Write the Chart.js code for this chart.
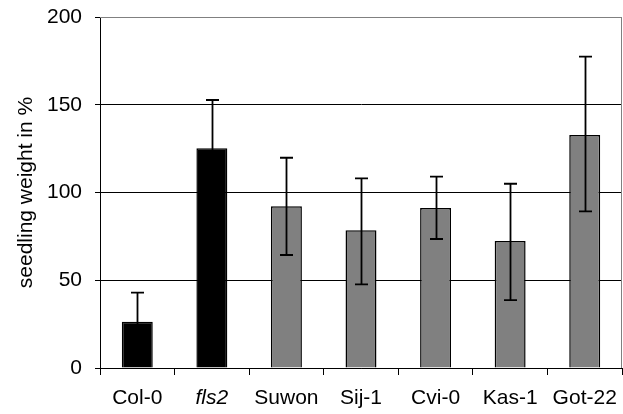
<!DOCTYPE html>
<html>
<head>
<meta charset="utf-8">
<script src="https://cdn.jsdelivr.net/npm/chart.js@4"></script>
<style>
  html, body { margin: 0; padding: 0; background: #fff; }
  #wrap { width: 623px; height: 414px; }
</style>
</head>
<body>
<div id="wrap"><canvas id="c" width="623" height="414"></canvas></div>
<script>
// Seedling weight relative to control, mean with error range
const categories = ['Col-0', 'fls2', 'Suwon', 'Sij-1', 'Cvi-0', 'Kas-1', 'Got-22'];
const weights    = [26.4, 125.2, 92.1, 78.5, 91.2, 72.4, 132.8];
const errUpper   = [42.9, 152.7, 119.8, 108.1, 109.0, 105.0, 177.4];
const errLower   = [9.9, 97.7, 64.4, 47.7, 73.5, 38.7, 89.3];
const barColors  = ['#000000', '#000000', '#808080', '#808080', '#808080', '#808080', '#808080'];
const yTicks     = [0, 50, 100, 150, 200];

const FONT = "'Liberation Sans', Arial, sans-serif";

// Error whiskers with caps, drawn over the bars
const errorBars = {
  id: 'errorBars',
  afterDatasetsDraw(chart) {
    const ctx = chart.ctx;
    const x = chart.scales.x, y = chart.scales.y;
    ctx.save();
    ctx.strokeStyle = '#000';
    ctx.lineWidth = 1.8;
    categories.forEach((c, i) => {
      const cx = Math.round(x.getPixelForValue(i)) + 0.5;
      const yt = y.getPixelForValue(errUpper[i]);
      const yb = y.getPixelForValue(errLower[i]);
      ctx.beginPath();
      ctx.moveTo(cx, yt); ctx.lineTo(cx, yb);
      ctx.moveTo(cx - 6.5, yt); ctx.lineTo(cx + 6.5, yt);
      ctx.moveTo(cx - 6.5, yb); ctx.lineTo(cx + 6.5, yb);
      ctx.stroke();
    });
    ctx.restore();
  }
};

// Grey frame on the top and right of the plot area
const frame = {
  id: 'frame',
  beforeDatasetsDraw(chart) {
    const {ctx, chartArea: a} = chart;
    ctx.save();
    ctx.strokeStyle = '#808080';
    ctx.lineWidth = 1;
    ctx.beginPath();
    ctx.moveTo(a.left, a.top + 0.5);
    ctx.lineTo(a.right - 0.5, a.top + 0.5);
    ctx.lineTo(a.right - 0.5, a.bottom);
    ctx.stroke();
    ctx.restore();
  }
};

new Chart(document.getElementById('c'), {
  type: 'bar',
  data: {
    labels: categories,
    datasets: [{
      data: weights,
      backgroundColor: barColors,
      borderColor: '#000',
      borderWidth: 1.5,
      categoryPercentage: 1,
      barPercentage: 0.415
    }]
  },
  options: {
    responsive: false,
    animation: false,
    devicePixelRatio: 1,
    layout: { padding: { top: 17, right: 1, left: 0, bottom: 0 } },
    plugins: { legend: { display: false }, tooltip: { enabled: false } },
    scales: {
      x: {
        offset: true,
        afterFit(s) {
          s.height = 46;
          s.paddingLeft = 0; s.paddingRight = 0;
        },
        grid: {
          offset: true,
          drawOnChartArea: false,
          drawTicks: true,
          tickLength: 7,
          color: '#000',
          lineWidth: 1
        },
        border: { color: '#000', width: 1 },
        ticks: {
          color: '#000',
          padding: 11,
          font: (ctx) => ({ family: FONT, size: 21, style: ctx.index === 1 ? 'italic' : 'normal' }),
          maxRotation: 0,
          autoSkip: false
        }
      },
      y: {
        min: 0,
        max: 200,
        afterFit(s) {
          s.width = 100;
          s.paddingTop = 0; s.paddingBottom = 0;
        },
        afterBuildTicks(s) { s.ticks = yTicks.map(v => ({ value: v })); },
        grid: {
          color: (ctx) => (ctx.tick && ctx.tick.value === 200) ? '#808080' : '#000',
          tickColor: '#000',
          tickLength: 5,
          lineWidth: 1
        },
        border: { color: '#000', width: 1 },
        ticks: {
          color: '#000',
          padding: 13,
          font: { family: FONT, size: 21 }
        },
        title: {
          display: true,
          text: 'seedling weight in %',
          color: '#000',
          font: { family: FONT, size: 21 },
          padding: { top: 14, bottom: 0 }
        }
      }
    }
  },
  plugins: [frame, errorBars]
});
</script>
</body>
</html>
